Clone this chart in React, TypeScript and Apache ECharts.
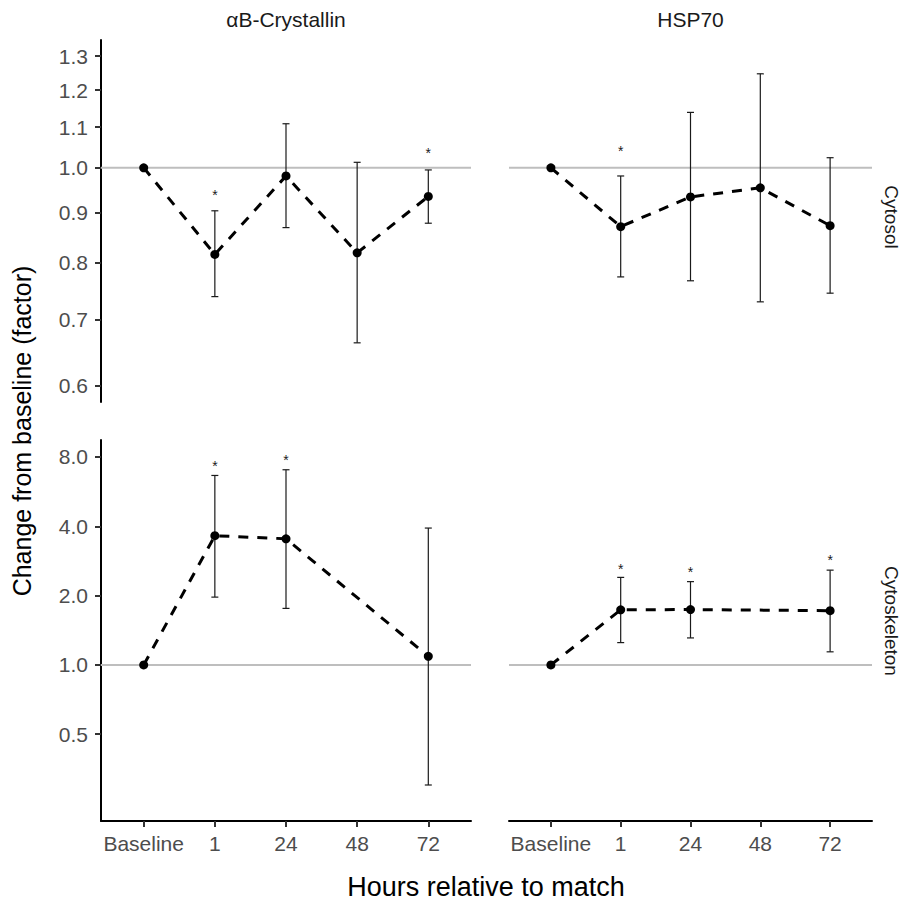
import React, { useEffect, useRef } from "react";
import * as echarts from "echarts";

const hours = ["Baseline", "1", "24", "48", "72"];
const xIdx = [0, 1, 2, 3, 4];
const ticksCytosol = [0.6, 0.7, 0.8, 0.9, 1.0, 1.1, 1.2, 1.3];
const ticksSkeleton = [0.5, 1, 2, 4, 8];
const proteins = ["αB-Crystallin", "HSP70"];
const fractions = ["Cytosol", "Cytoskeleton"];

// Cytosol, αB-Crystallin
const cytCryMean = [1.0, 0.816, 0.981, 0.819, 0.935];
const cytCryLow = [null, 0.739, 0.869, 0.663, 0.878];
const cytCryHigh = [null, 0.904, 1.109, 1.013, 0.995];
const cytCryStar = [null, 0.945, null, null, 1.042];

// Cytosol, HSP70
const cytHspMean = [1.0, 0.871, 0.934, 0.954, 0.873];
const cytHspLow = [null, 0.774, 0.767, 0.73, 0.745];
const cytHspHigh = [null, 0.981, 1.139, 1.247, 1.024];
const cytHspStar = [null, 1.047, null, null, null];

// Cytoskeleton, αB-Crystallin
const skelCryMean = [1.0, 3.64, 3.53, null, 1.09];
const skelCryLow = [null, 1.97, 1.76, null, 0.301];
const skelCryHigh = [null, 6.65, 7.04, null, 3.93];
const skelCryStar = [null, 7.51, 7.98, null, null];

// Cytoskeleton, HSP70
const skelHspMean = [1.0, 1.735, 1.74, null, 1.72];
const skelHspLow = [null, 1.25, 1.31, null, 1.14];
const skelHspHigh = [null, 2.4, 2.3, null, 2.58];
const skelHspStar = [null, 2.7, 2.6, null, 2.94];

const FONT = "'Liberation Sans', Arial, Helvetica, sans-serif";

type Panel = {
  mean: (number | null)[];
  low: (number | null)[];
  high: (number | null)[];
  star: (number | null)[];
  yMin: number;
  yMax: number;
  ticks: number[];
  left: boolean;
  bottom: boolean;
};

const panels: Panel[] = [
  { mean: cytCryMean, low: cytCryLow, high: cytCryHigh, star: cytCryStar, yMin: 0.577, yMax: 1.35, ticks: ticksCytosol, left: true, bottom: false },
  { mean: cytHspMean, low: cytHspLow, high: cytHspHigh, star: cytHspStar, yMin: 0.577, yMax: 1.35, ticks: ticksCytosol, left: false, bottom: false },
  { mean: skelCryMean, low: skelCryLow, high: skelCryHigh, star: skelCryStar, yMin: 0.21, yMax: 9.48, ticks: ticksSkeleton, left: true, bottom: true },
  { mean: skelHspMean, low: skelHspLow, high: skelHspHigh, star: skelHspStar, yMin: 0.21, yMax: 9.48, ticks: ticksSkeleton, left: false, bottom: true },
];

const grids = [
  { left: 101, top: 40, width: 370, height: 362 },
  { left: 509, top: 40, width: 363, height: 362 },
  { left: 101, top: 440, width: 370, height: 381 },
  { left: 509, top: 440, width: 363, height: 381 },
];

const X_MIN = -0.6;
const X_MAX = 4.6;

function buildOption() {
  const xAxis: any[] = [];
  const yAxis: any[] = [];
  const series: any[] = [];

  panels.forEach((p, i) => {
    xAxis.push({
      type: "value",
      gridIndex: i,
      min: X_MIN,
      max: X_MAX,
      splitLine: { show: false },
      axisLine: { show: p.bottom, onZero: false, lineStyle: { color: "#000", width: 2 } },
      axisTick: { show: p.bottom, customValues: xIdx, length: 6, lineStyle: { color: "#333", width: 2 } },
      axisLabel: {
        show: p.bottom,
        customValues: xIdx,
        formatter: (v: number) => hours[Math.round(v)] ?? "",
        color: "#4D4D4D",
        fontSize: 21,
        fontFamily: FONT,
        margin: 12,
      },
    });
    yAxis.push({
      type: "log",
      logBase: 10,
      gridIndex: i,
      min: p.yMin,
      max: p.yMax,
      splitLine: { show: false },
      axisLine: { show: p.left, onZero: false, lineStyle: { color: "#000", width: 2 } },
      axisTick: { show: p.left, customValues: p.ticks, length: 6, lineStyle: { color: "#333", width: 2 } },
      axisLabel: {
        show: p.left,
        customValues: p.ticks,
        formatter: (v: number) => Number(v).toFixed(1),
        color: "#4D4D4D",
        fontSize: 21,
        fontFamily: FONT,
        margin: 13,
      },
    });

    // reference line at 1.0 across the panel
    series.push({
      type: "line",
      xAxisIndex: i,
      yAxisIndex: i,
      data: [[X_MIN, 1], [X_MAX, 1]],
      symbol: "none",
      silent: true,
      lineStyle: { color: "#BEBEBE", width: 2 },
      z: 1,
    });

    // error bars
    const eb: number[][] = [];
    xIdx.forEach((x) => {
      const lo = p.low[x];
      const hi = p.high[x];
      if (lo != null && hi != null) eb.push([x, lo, hi]);
    });
    series.push({
      type: "custom",
      xAxisIndex: i,
      yAxisIndex: i,
      data: eb,
      z: 2,
      silent: true,
      renderItem: (params: any, api: any) => {
        const x = api.value(0);
        const a = api.coord([x, api.value(1)]);
        const b = api.coord([x, api.value(2)]);
        const cap = 3.5;
        const st = { stroke: "#1a1a1a", lineWidth: 1.2 };
        return {
          type: "group",
          children: [
            { type: "line", shape: { x1: a[0], y1: a[1], x2: b[0], y2: b[1] }, style: st },
            { type: "line", shape: { x1: a[0] - cap, y1: a[1], x2: a[0] + cap, y2: a[1] }, style: st },
            { type: "line", shape: { x1: b[0] - cap, y1: b[1], x2: b[0] + cap, y2: b[1] }, style: st },
          ],
        };
      },
    });

    // mean line with points
    const md: number[][] = [];
    xIdx.forEach((x) => {
      const v = p.mean[x];
      if (v != null) md.push([x, v]);
    });
    series.push({
      type: "line",
      xAxisIndex: i,
      yAxisIndex: i,
      data: md,
      symbol: "circle",
      symbolSize: 9,
      showSymbol: true,
      itemStyle: { color: "#000" },
      lineStyle: { color: "#000", width: 3, type: [10, 9] },
      z: 3,
      silent: true,
    });

    // significance stars
    const sd: number[][] = [];
    xIdx.forEach((x) => {
      const s = p.star[x];
      if (s != null) sd.push([x, s]);
    });
    series.push({
      type: "custom",
      xAxisIndex: i,
      yAxisIndex: i,
      data: sd,
      z: 4,
      silent: true,
      renderItem: (params: any, api: any) => {
        const c = api.coord([api.value(0), api.value(1)]);
        return {
          type: "text",
          x: c[0],
          y: c[1] + 3,
          style: {
            text: "*",
            fontSize: 14,
            fontFamily: FONT,
            fill: "#1a1a1a",
            textAlign: "center",
            textVerticalAlign: "middle",
          },
        };
      },
    });
  });

  const graphic: any[] = [
    {
      type: "text",
      x: grids[0].left + grids[0].width / 2,
      y: 19,
      style: { text: proteins[0], fontSize: 21, fontFamily: FONT, fill: "#1A1A1A", textAlign: "center", textVerticalAlign: "middle" },
    },
    {
      type: "text",
      x: grids[1].left + grids[1].width / 2,
      y: 19,
      style: { text: proteins[1], fontSize: 21, fontFamily: FONT, fill: "#1A1A1A", textAlign: "center", textVerticalAlign: "middle" },
    },
    {
      type: "text",
      x: 891,
      y: 217,
      rotation: -Math.PI / 2,
      style: { text: fractions[0], fontSize: 19, fontFamily: FONT, fill: "#1A1A1A", textAlign: "center", textVerticalAlign: "middle" },
    },
    {
      type: "text",
      x: 891,
      y: 621,
      rotation: -Math.PI / 2,
      style: { text: fractions[1], fontSize: 19, fontFamily: FONT, fill: "#1A1A1A", textAlign: "center", textVerticalAlign: "middle" },
    },
    {
      type: "text",
      x: 486,
      y: 887,
      style: { text: "Hours relative to match", fontSize: 27, fontFamily: FONT, fill: "#000", textAlign: "center", textVerticalAlign: "middle" },
    },
    {
      type: "text",
      x: 22,
      y: 431,
      rotation: Math.PI / 2,
      style: { text: "Change from baseline (factor)", fontSize: 25, fontFamily: FONT, fill: "#000", textAlign: "center", textVerticalAlign: "middle" },
    },
  ];

  return {
    animation: false,
    backgroundColor: "#fff",
    grid: grids.map((g) => ({ ...g, containLabel: false })),
    xAxis,
    yAxis,
    series,
    graphic,
  };
}

export default function App() {
  const ref = useRef<HTMLDivElement>(null);
  useEffect(() => {
    if (!ref.current) return;
    const chart = echarts.init(ref.current, undefined, { renderer: "svg" });
    chart.setOption(buildOption() as any);
    return () => chart.dispose();
  }, []);
  return (
    <div
      ref={ref}
      style={{ position: "fixed", left: 0, top: 0, width: 906, height: 903, background: "#fff" }}
    />
  );
}
